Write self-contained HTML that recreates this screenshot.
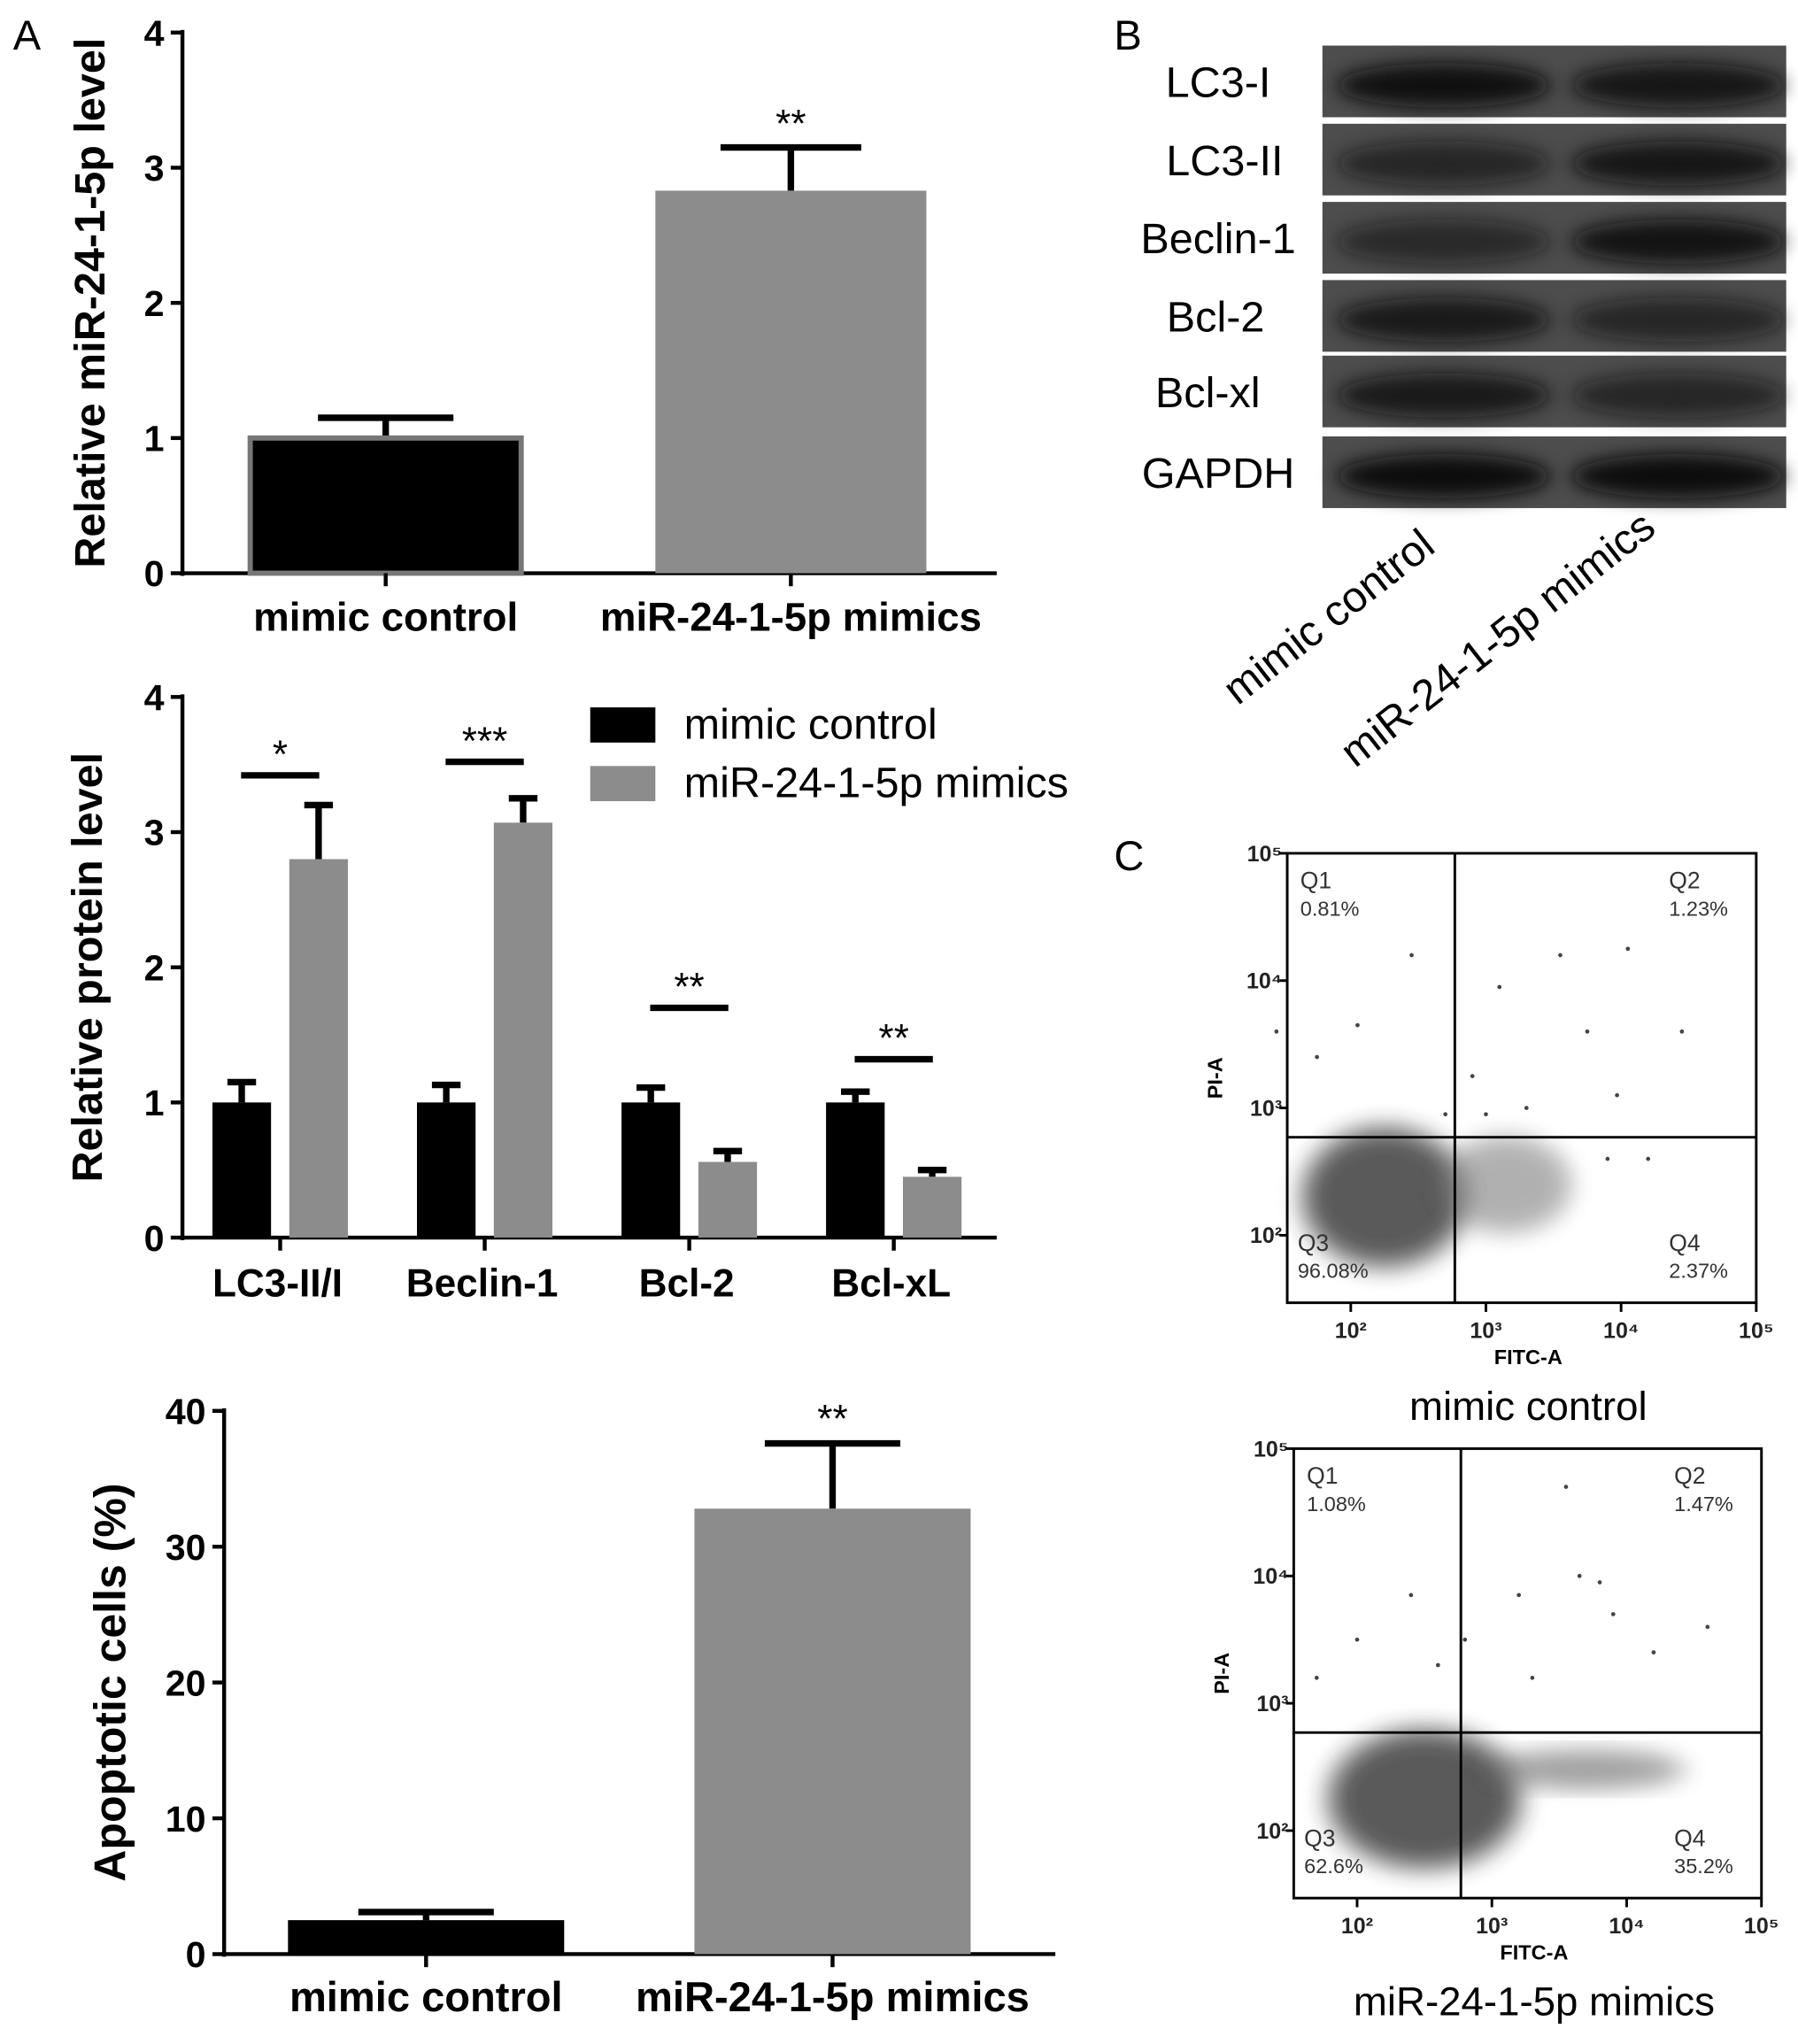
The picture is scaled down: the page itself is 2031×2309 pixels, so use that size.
<!DOCTYPE html>
<html><head><meta charset="utf-8"><style>
html,body{margin:0;padding:0;background:#fff;}
svg{display:block;font-family:"Liberation Sans",Arial,sans-serif;}
.b{font-weight:bold;}
</style></head><body>
<svg id="fig" width="2031" height="2309" viewBox="0 0 1380 1569">
<defs>
<filter id="blur" x="-20%" y="-50%" width="140%" height="200%"><feGaussianBlur stdDeviation="7"/></filter>
<filter id="blur2" x="-30%" y="-30%" width="160%" height="160%"><feGaussianBlur stdDeviation="9"/></filter>
<pattern id="speck" width="4" height="4" patternUnits="userSpaceOnUse"><circle cx="1" cy="1" r="1" fill="#555"/><circle cx="3" cy="3" r="0.8" fill="#777"/></pattern>
</defs>
<text x="10" y="38" font-size="32">A</text>
<text x="855" y="38" font-size="32">B</text>
<text x="855" y="668" font-size="32">C</text>
<g id="c1"></g>
<g id="c2"></g>
<g id="c3"></g>
<g id="blot"></g>
<g id="flow1"></g>
<g id="flow2"></g>
</svg>
<script>
const NS="http://www.w3.org/2000/svg";
function mk(p,t,a,txt){const e=document.createElementNS(NS,t);for(const k in a)e.setAttribute(k,a[k]);if(txt!==undefined)e.textContent=txt;p.appendChild(e);return e;}

// Chart 1 data
const c1Cats=["mimic control","miR-24-1-5p mimics"];
const c1Vals=[1.0,2.83];
const c1Errs=[0.15,0.32];
const c1Ticks=[0,1,2,3,4];
// Chart 2 data
const c2Cats=["LC3-II/I","Beclin-1","Bcl-2","Bcl-xL"];
const c2Ctrl=[1.0,1.0,1.0,1.0];
const c2CtrlErr=[0.15,0.13,0.11,0.08];
const c2Mim=[2.8,3.07,0.56,0.45];
const c2MimErr=[0.4,0.18,0.08,0.05];
const c2Sig=["*","***","**","**"];
const c2SigLevel=[3.42,3.52,1.7,1.32];
const c2Ticks=[0,1,2,3,4];
// Chart 3 data
const c3Cats=["mimic control","miR-24-1-5p mimics"];
const c3Vals=[2.5,32.8];
const c3Errs=[0.6,4.8];
const c3Ticks=[0,10,20,30,40];

function axisY(g,x0,xr,yTop,yBot,max,ticks,title,titleX,tfs){
  const y=v=>yBot-(v/max)*(yBot-yTop);
  mk(g,"line",{x1:x0,y1:yTop-2,x2:x0,y2:yBot+2,stroke:"#000","stroke-width":3,});
  mk(g,"line",{x1:x0-2,y1:yBot,x2:xr,y2:yBot,stroke:"#000","stroke-width":3,});
  ticks.forEach(t=>{
    const l=mk(g,"line",{x1:x0-9,y1:y(t),x2:x0,y2:y(t),stroke:"#000","stroke-width":3});
    
    
    const tx=mk(g,"text",{x:x0-14,y:y(t)+10,"font-size":28,"text-anchor":"end",class:"b"},String(t));
    
    
  });
  const yc=(yTop+yBot)/2;
  mk(g,"text",{x:titleX,y:yc,"font-size":tfs,"text-anchor":"middle",class:"b",transform:`rotate(-90 ${titleX} ${yc})`,},title);
  return y;
}
function errBar(g,cx,yv,ye,half,name){
  const a=mk(g,"line",{x1:cx,y1:yv,x2:cx,y2:ye,stroke:"#000","stroke-width":5});
  
  
  const b=mk(g,"line",{x1:cx-half,y1:ye,x2:cx+half,y2:ye,stroke:"#000","stroke-width":5});
  
  
}

// Chart 1
(function(){
  const g=document.getElementById("c1");
  const y=axisY(g,140,765,25,440,4,c1Ticks,"Relative miR-24-1-5p level",80,33);
  const xs=[296,607],w=208,cols=["#000","#8c8c8c"];
  c1Vals.forEach((v,i)=>{
    errBar(g,xs[i],y(v),y(v+c1Errs[i]),i?54:52,'error-bar');
    const r=mk(g,"rect",{x:xs[i]-w/2,y:y(v),width:w,height:440-y(v),fill:cols[i],stroke:i?"none":"#777","stroke-width":i?0:4});
    
    
    mk(g,"line",{x1:xs[i],y1:440,x2:xs[i],y2:450,stroke:"#000","stroke-width":3});
    const t=mk(g,"text",{x:xs[i],y:484,"font-size":31,"text-anchor":"middle",class:"b"},c1Cats[i]);
    
    
  });
  mk(g,"text",{x:607,y:105,"font-size":30,"text-anchor":"middle",},"**");
})();

// Chart 2
(function(){
  const g=document.getElementById("c2");
  const y=axisY(g,140,765,535,950,4,c2Ticks,"Relative protein level",78,33);
  const step=157,w=45;
  c2Cats.forEach((c,i)=>{
    const x0=163+i*step;
    errBar(g,x0+w/2,y(c2Ctrl[i]),y(c2Ctrl[i]+c2CtrlErr[i]),11,'error-bar-control');
    const r=mk(g,"rect",{x:x0,y:y(c2Ctrl[i]),width:w,height:950-y(c2Ctrl[i]),fill:"#000"});
    
    
    errBar(g,x0+59+w/2,y(c2Mim[i]),y(c2Mim[i]+c2MimErr[i]),11,'error-bar-mimics');
    const r2=mk(g,"rect",{x:x0+59,y:y(c2Mim[i]),width:w,height:950-y(c2Mim[i]),fill:"#8c8c8c"});
    
    
    const sy=y(c2SigLevel[i]);
    const s=mk(g,"line",{x1:x0+22,y1:sy,x2:x0+82,y2:sy,stroke:"#000","stroke-width":5});
    
    
    const st=mk(g,"text",{x:x0+52,y:sy-6,"font-size":30,"text-anchor":"middle"},c2Sig[i]);
    
    
    mk(g,"line",{x1:x0+52,y1:950,x2:x0+52,y2:960,stroke:"#000","stroke-width":3});
    const t=mk(g,"text",{x:x0+50,y:995,"font-size":30,"text-anchor":"middle",class:"b"},c);
    
    
  });
  mk(g,"rect",{x:453,y:543,width:50,height:27,fill:"#000",});
  mk(g,"text",{x:525,y:567,"font-size":33,},"mimic control");
  mk(g,"rect",{x:453,y:588,width:50,height:27,fill:"#8c8c8c",});
  mk(g,"text",{x:525,y:612,"font-size":33,},"miR-24-1-5p mimics");
})();

// Chart 3
(function(){
  const g=document.getElementById("c3");
  const y=axisY(g,172,810,1083,1500,40,c3Ticks,"Apoptotic cells (%)",96,34);
  const xs=[327,639],w=212,cols=["#000","#8c8c8c"];
  c3Vals.forEach((v,i)=>{
    errBar(g,xs[i],y(v),y(v+c3Errs[i]),52,'error-bar');
    const r=mk(g,"rect",{x:xs[i]-w/2,y:y(v),width:w,height:1500-y(v),fill:cols[i]});
    
    
    mk(g,"line",{x1:xs[i],y1:1500,x2:xs[i],y2:1510,stroke:"#000","stroke-width":3});
    const t=mk(g,"text",{x:xs[i],y:1544,"font-size":32,"text-anchor":"middle",class:"b"},c3Cats[i]);
    
    
  });
  mk(g,"text",{x:639,y:1099,"font-size":30,"text-anchor":"middle",},"**");
})();

// Western blot
const blotLabels=["LC3-I","LC3-II","Beclin-1","Bcl-2","Bcl-xl","GAPDH"];
const blotIntensity=[[0.95,0.85],[0.6,0.85],[0.55,0.9],[0.8,0.6],[0.8,0.6],[1.0,1.0]];
(function(){
  const g=document.getElementById("blot");
  const tops=[35,95,155,215,273,335],h=[55,55,55,55,55,55];
  const lx=[935,940,935,933,927,935];
  blotLabels.forEach((l,i)=>{
    const y0=tops[i];
    const r=mk(g,"rect",{x:1015,y:y0,width:356,height:h[i],fill:"#4d4d4d"});
    
    
    [1108,1288].forEach((cx,j)=>{
      const a=blotIntensity[i][j];
      const e=mk(g,"ellipse",{cx:cx,cy:y0+h[i]/2+3,rx:82,ry:17,fill:"#0a0a0a",opacity:a,filter:"url(#blur)"});
      
      
    });
    const t=mk(g,"text",{x:lx[i],y:y0+h[i]/2+12,"font-size":33,"text-anchor":"middle"},l);
    
    
  });
  mk(g,"text",{x:0,y:0,"font-size":33,transform:"translate(950 542) rotate(-38)",},"mimic control");
  mk(g,"text",{x:0,y:0,"font-size":33,transform:"translate(1040 590) rotate(-38)",},"miR-24-1-5p mimics");
})();

// Flow cytometry
const flow1Pct=["0.81%","1.23%","96.08%","2.37%"];
const flow2Pct=["1.08%","1.47%","62.6%","35.2%"];
const flow1Outliers=[[2.45,4.2],[2.05,3.65],[1.75,3.4],[3.1,3.95],[3.55,4.2],[4.05,4.25],[3.75,3.6],[4.45,3.6],[2.9,3.25],[3.97,3.1],[1.45,3.6],[3.0,2.95],[3.3,3.0],[2.7,2.95],[3.9,2.6],[4.2,2.6]];
const flow2Outliers=[[3.55,4.7],[3.65,4.0],[3.8,3.95],[3.2,3.85],[2.4,3.85],[2.0,3.5],[1.7,3.2],[2.6,3.3],[3.9,3.7],[4.2,3.4],[4.6,3.6],[2.8,3.5],[3.3,3.2]];
function flow(id,L,T,R,B,pct,outl,title,clusters){
  const g=document.getElementById(id);
  const xmin=1.53,ymin=1.47;
  const X=v=>L+(v-xmin)/(5-xmin)*(R-L);
  const Y=v=>B-(v-ymin)/(5-ymin)*(B-T);
  const gx=2.77,gy=2.77;
  clusters.forEach(c=>{
    const e=mk(g,"ellipse",{cx:X(c[0]),cy:Y(c[1]),rx:c[2]*(R-L),ry:c[3]*(B-T),fill:c[4],opacity:c[5],filter:"url(#blur2)"});
    
    
    const s=mk(g,"ellipse",{cx:X(c[0]),cy:Y(c[1]),rx:c[2]*(R-L)*1.15,ry:c[3]*(B-T)*1.15,fill:"url(#speck)",opacity:0.5,filter:"url(#blur)"});
    
    
  });
  outl.forEach(p=>{
    const d=mk(g,"circle",{cx:X(p[0]),cy:Y(p[1]),r:1.6,fill:"#444"});
    
    
  });
  mk(g,"rect",{x:L,y:T,width:R-L,height:B-T,fill:"none",stroke:"#000","stroke-width":2,});
  mk(g,"line",{x1:X(gx),y1:T,x2:X(gx),y2:B,stroke:"#000","stroke-width":2,});
  mk(g,"line",{x1:L,y1:Y(gy),x2:R,y2:Y(gy),stroke:"#000","stroke-width":2,});
  const sup=["²","³","⁴","⁵"];
  [2,3,4,5].forEach(e=>{
    const t=mk(g,"text",{x:X(e),y:B+27,"font-size":17,"text-anchor":"middle",class:"b",fill:"#222"},"10"+sup[e-2]);
    
    
    const t2=mk(g,"text",{x:L-4,y:Y(e)+6,"font-size":17,"text-anchor":"end",class:"b",fill:"#222"},"10"+sup[e-2]);
    
    
    mk(g,"line",{x1:X(e),y1:B,x2:X(e),y2:B+7,stroke:"#000","stroke-width":2});
    mk(g,"line",{x1:L-6,y1:Y(e),x2:L,y2:Y(e),stroke:"#000","stroke-width":2});
  });
  mk(g,"text",{x:(L+R)/2+5,y:B+47,"font-size":16,"text-anchor":"middle",class:"b",},"FITC-A");
  const yc=(T+B)/2;
  mk(g,"text",{x:L-50,y:yc,"font-size":16,"text-anchor":"middle",class:"b",transform:`rotate(-90 ${L-50} ${yc})`,},"PI-A");
  const q=[["Q1",L+10,T+27],["Q2",R-67,T+27],["Q3",L+8,B-40],["Q4",R-67,B-40]];
  q.forEach((a,i)=>{
    const t=mk(g,"text",{x:a[1],y:a[2],"font-size":18,fill:"#333"},a[0]);
    
    
    const p=mk(g,"text",{x:a[1],y:a[2]+21,"font-size":16,fill:"#333"},pct[i]);
    
    
  });
  mk(g,"text",{x:(L+R)/2+5,y:B+90,"font-size":31,"text-anchor":"middle",},title);
}
// cluster: [logX, logY, rxFrac, ryFrac, color, opacity]
const flow1Clusters=[[2.25,2.3,0.17,0.15,"#3a3a3a",0.85],[3.15,2.4,0.13,0.1,"#8a8a8a",0.55]];
const flow2Clusters=[[2.5,2.25,0.2,0.15,"#3a3a3a",0.85],[3.7,2.48,0.2,0.04,"#666",0.55]];
flow("flow1",988,655,1348,1000,flow1Pct,flow1Outliers,"mimic control",flow1Clusters);
flow("flow2",993,1112,1352,1457,flow2Pct,flow2Outliers,"miR-24-1-5p mimics",flow2Clusters);
</script>
</body></html>
